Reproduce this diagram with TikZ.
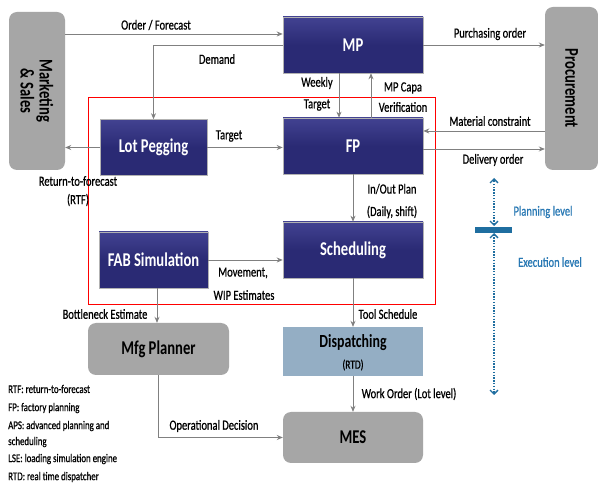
\documentclass[tikz,border=0pt]{standalone}
\usepackage{fontspec}
\setmainfont[FakeStretch=0.75,UprightFeatures={FakeBold=0.7}]{Carlito}
\usetikzlibrary{arrows.meta,calc}
\definecolor{navy}{RGB}{42,42,116}
\definecolor{navytop}{RGB}{66,66,145}
\definecolor{boxgray}{RGB}{166,166,166}
\definecolor{dispblue}{RGB}{148,174,196}
\definecolor{arrgray}{RGB}{128,128,128}
\definecolor{lvlblue}{RGB}{31,110,160}
\definecolor{lvltext}{RGB}{40,120,180}
\begin{document}
\begin{tikzpicture}[x=1pt,y=-1pt,
  navybox/.style={draw=gray!60,line width=0.6pt,top color=navytop,bottom color=navy,middle color=navy,
     text=white,font=\fontsize{19.5}{21}\selectfont\bfseries,inner sep=0pt},
  graybox/.style={draw=none,fill=boxgray,rounded corners=8pt,text=black,
     font=\fontsize{19.5}{21}\selectfont\bfseries,inner sep=0pt},
  lbl/.style={font=\fontsize{14}{15}\selectfont,text=black,inner sep=0pt},
  leg/.style={font=\fontsize{11.8}{12}\selectfont,text=black,inner sep=0pt,anchor=west},
  arr/.style={draw=arrgray,line width=0.8pt,-{Stealth[length=6pt,width=5pt]}},
  lvl/.style={draw=lvlblue,line width=1.6pt,dash pattern=on 1.4pt off 1.4pt,
     {Straight Barb[length=4pt,width=8pt,line width=1.3pt]}-{Straight Barb[length=4pt,width=8pt,line width=1.3pt]}}
]
\useasboundingbox (0,0) rectangle (598,486);
\fill[white] (0,0) rectangle (598,486);

% red frame
\draw[red,line width=1pt] (88,98) rectangle (435,305);

% boxes
\node[graybox,minimum width=56pt,minimum height=158pt] (ms) at (37,91) {};
\node[rotate=-90,align=center,font=\fontsize{19.5}{20}\selectfont\bfseries] (mst) at (37,91) {Marketing\\[-1pt]\& Sales};
\node[graybox,minimum width=53pt,minimum height=163pt] (pr) at (571.5,88.5) {};
\node[rotate=-90,font=\fontsize{19.5}{21}\selectfont\bfseries] (prt) at (571.5,88.5) {Procurement};
\node[navybox,minimum width=140pt,minimum height=56pt] (mp) at (353,45) {MP};
\node[navybox,minimum width=107pt,minimum height=56pt] (lp) at (153.5,147.5) {Lot Pegging};
\node[navybox,minimum width=140pt,minimum height=56pt] (fp) at (353,146) {FP};
\node[navybox,minimum width=109pt,minimum height=56pt] (fab) at (153.5,260) {FAB Simulation};
\node[navybox,minimum width=140pt,minimum height=56pt] (sch) at (353,250) {Scheduling};
\node[draw=none,fill=dispblue,minimum width=140pt,minimum height=49pt,inner sep=0pt] (dsp) at (353,351.5) {};
\node[font=\fontsize{18.5}{20}\selectfont\bfseries,inner sep=0pt] (dspt) at (353,343) {Dispatching};
\node[font=\fontsize{12.5}{13}\selectfont,inner sep=0pt] (dspr) at (353,365) {(RTD)};
\node[graybox,minimum width=140pt,minimum height=51pt] (mes) at (353,437.5) {MES};
\node[graybox,minimum width=141pt,minimum height=52pt] (mfg) at (158.5,349) {Mfg Planner};

% helper coordinates
\coordinate (yOF) at (0,34);
\coordinate (yMC) at (0,131);
\coordinate (yDO) at (0,149);
\coordinate (xWT) at (339,0);
\coordinate (xCV) at (371,0);
\coordinate (xBN) at (157,0);

% connectors
\draw[arr] (ms.east |- yOF) -- (mp.west |- yOF);
\draw[arr] (mp.west) -| (lp.north);
\draw[arr] (lp.west) -- (lp.west -| ms.east);
\draw[arr] (lp.east) -- (lp.east -| fp.west);
\draw[arr] (mp.south -| xWT) -- (fp.north -| xWT);
\draw[arr] (fp.north -| xCV) -- (mp.south -| xCV);
\draw[arr] (mp.east) -- (mp.east -| pr.west);
\draw[arr] (pr.west |- yMC) -- (fp.east |- yMC);
\draw[arr] (fp.east |- yDO) -- (pr.west |- yDO);
\draw[arr] (fp.south) -- (sch.north);
\draw[arr] (fab.east) -- (fab.east -| sch.west);
\draw[arr] (fab.south -| xBN) -- (mfg.north -| xBN);
\draw[arr] (sch.south) -- (dsp.north);
\draw[arr] (dsp.south) -- (mes.north);
\draw[arr] (mfg.south) |- (mes.west);

% labels
\node[lbl] (l1) at (156,25) {Order / Forecast};
\node[lbl] (l2) at (217,59) {Demand};
\node[lbl] (l3) at (229,136) {Target};
\node[lbl] (l4) at (78,181) {Return-to-forecast};
\node[lbl] (l5) at (78,200) {(RTF)};
\node[lbl] (l6) at (317,83) {Weekly};
\node[lbl] (l7) at (317,105) {Target};
\node[lbl] (l8) at (403,88) {MP Capa};
\node[lbl] (l9) at (403,107) {Verification};
\node[lbl] (l10) at (490,34) {Purchasing order};
\node[lbl] (l11) at (490,121) {Material constraint};
\node[lbl] (l12) at (493,160) {Delivery order};
\node[lbl] (l13) at (392,189) {In/Out Plan};
\node[lbl] (l14) at (392,212) {(Daily, shift)};
\node[lbl] (l15) at (243,273) {Movement,};
\node[lbl] (l16) at (244,295) {WIP Estimates};
\node[lbl] (l17) at (105,314) {Bottleneck Estimate};
\node[lbl] (l18) at (388,314) {Tool Schedule};
\node[lbl] (l19) at (409,394) {Work Order (Lot level)};
\node[lbl] (l20) at (214,426) {Operational Decision};

% planning / execution level
\coordinate (lvTop) at (494,178);
\coordinate (lvMidA) at (494,226);
\coordinate (lvMidB) at (494,233);
\coordinate (lvBot) at (494,395);
\draw[lvl] (lvMidA) -- (lvTop);
\draw[lvl] (lvMidB) -- (lvBot);
\draw[lvlblue,line width=6pt] (475,230) -- (512,230);
\node[lbl,text=lvltext] (pl) at (543,212) {Planning level};
\node[lbl,text=lvltext] (el) at (550,262) {Execution level};

% legend
\node[leg] (g1) at (8,389) {RTF: return-to-forecast};
\node[leg] (g2) at (8,408) {FP: factory planning};
\node[leg] (g3) at (8,426) {APS: advanced planning and};
\node[leg] (g4) at (8,442) {scheduling};
\node[leg] (g5) at (8,459) {LSE: loading simulation engine};
\node[leg] (g6) at (8,477) {RTD: real time dispatcher};
\end{tikzpicture}
\end{document}
